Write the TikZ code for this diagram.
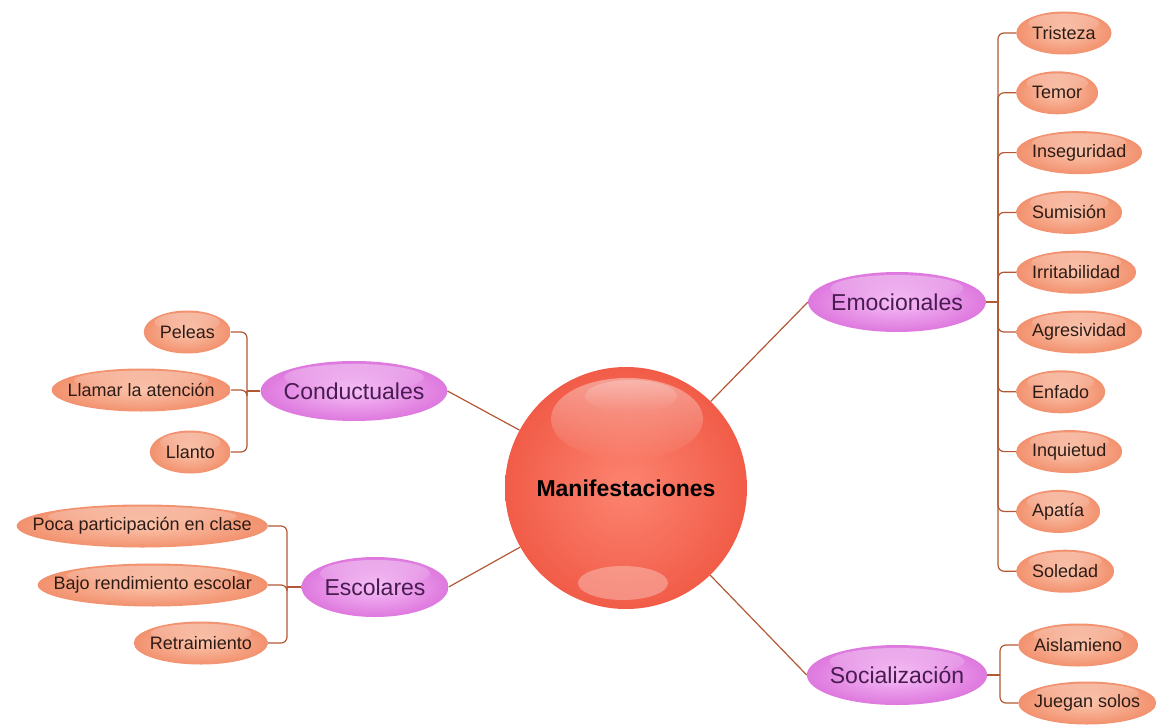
\documentclass[tikz,border=0pt]{standalone}
\usepackage{fontspec}
\setmainfont{Liberation Sans}
\usetikzlibrary{calc,fadings}
\definecolor{linkbrown}{RGB}{178,88,52}
\definecolor{leafin}{RGB}{251,196,172}
\definecolor{leafout}{RGB}{242,145,110}
\definecolor{leaftext}{RGB}{45,28,22}
\definecolor{branchin}{RGB}{246,190,246}
\definecolor{branchout}{RGB}{222,120,222}
\definecolor{branchtext}{RGB}{72,28,80}
\definecolor{hubin}{RGB}{252,132,112}
\definecolor{hubout}{RGB}{241,92,72}
\tikzset{
	glossy/.style 2 args={rectangle, draw=none, path picture={
			\shade[inner color=#1, outer color=#2] let \p1=($(path picture bounding box.north east)-(path picture bounding box.center)$) in
			(path picture bounding box.center) ellipse [x radius=\x1, y radius=\y1];
			\fill[white, opacity=.35, path fading=south] let \p1=($(path picture bounding box.north east)-(path picture bounding box.center)$) in
			($(path picture bounding box.center)+(0,0.45*\y1)$) ellipse [x radius=0.75*\x1, y radius=0.45*\y1];
	}},
	leaf/.style={glossy={leafin}{leafout}, inner xsep=16pt, inner ysep=0pt, minimum height=43pt,
		text=leaftext, font=\fontsize{18}{20}\selectfont},
	branch/.style={glossy={branchin}{branchout}, inner xsep=23pt, inner ysep=0pt, minimum height=60pt,
		text=branchtext, font=\fontsize{23}{26}\selectfont},
	hub/.style={circle, minimum size=242pt, inner sep=0pt, inner color=hubin, outer color=hubout,
		font=\bfseries\fontsize{23}{26}\selectfont},
	link/.style={draw=linkbrown, line width=1.2pt}
}
\begin{document}
\begin{tikzpicture}[x=1pt, y=-1pt]
\useasboundingbox (0,0) rectangle (1165,725);
\node[hub] (m) at (626,488) {Manifestaciones};
\fill[white, opacity=.4, path fading=south] ($(m.center)+(1,-69)$) ellipse [x radius=76pt, y radius=41pt];
\fill[white, opacity=.25, path fading=south] ($(m.center)+(5,-92)$) ellipse [x radius=46pt, y radius=16pt];
\fill[white, opacity=.3] ($(m.center)+(-3,95)$) ellipse [x radius=45pt, y radius=17pt];

\node[branch] (emo) at (897,302) {Emocionales};
\node[branch] (con) at (354,391) {Conductuales};
\node[branch] (esc) at (375,587) {Escolares};
\node[branch] (soc) at (897,675) {Socialización};

\coordinate (ej) at (998,302);
\coordinate (cj) at (247,391);
\coordinate (sj) at (287,587);
\coordinate (zj) at (1000,675);

\foreach \t [count=\i] in {Tristeza,Temor,Inseguridad,Sumisión,Irritabilidad,Agresividad,Enfado,Inquietud,Apatía,Soledad}
\node[leaf, anchor=west] (emo\i) at (1016,{33+59.8*(\i-1)}) {\t};
\node[leaf, anchor=west] (soc1) at (1018,645) {Aislamieno};
\node[leaf, anchor=west] (soc2) at (1018,703) {Juegan solos};
\node[leaf, anchor=east] (con1) at (231,332) {Peleas};
\node[leaf, anchor=east] (con2) at (231,390) {Llamar la atención};
\node[leaf, anchor=east] (con3) at (231,452) {Llanto};
\node[leaf, anchor=east] (esc1) at (268,526) {Poca participación en clase};
\node[leaf, anchor=east] (esc2) at (268,585) {Bajo rendimiento escolar};
\node[leaf, anchor=east] (esc3) at (268,643) {Retraimiento};

\draw[link] (m) -- (emo.west);
\draw[link] (m) -- (con.east);
\draw[link] (m) -- (esc.east);
\draw[link] (m) -- (soc.west);

\draw[link] (emo.east) -- (ej);
\foreach \i in {1,...,10}
\draw[link, rounded corners=6pt] (ej) |- (emo\i.west);
\draw[link] (soc.east) -- (zj);
\foreach \i in {1,2}
\draw[link, rounded corners=6pt] (zj) |- (soc\i.west);
\draw[link] (con.west) -- (cj);
\foreach \i in {1,2,3}
\draw[link, rounded corners=6pt] (cj) |- (con\i.east);
\draw[link] (esc.west) -- (sj);
\foreach \i in {1,2,3}
\draw[link, rounded corners=6pt] (sj) |- (esc\i.east);
\end{tikzpicture}
\end{document}
